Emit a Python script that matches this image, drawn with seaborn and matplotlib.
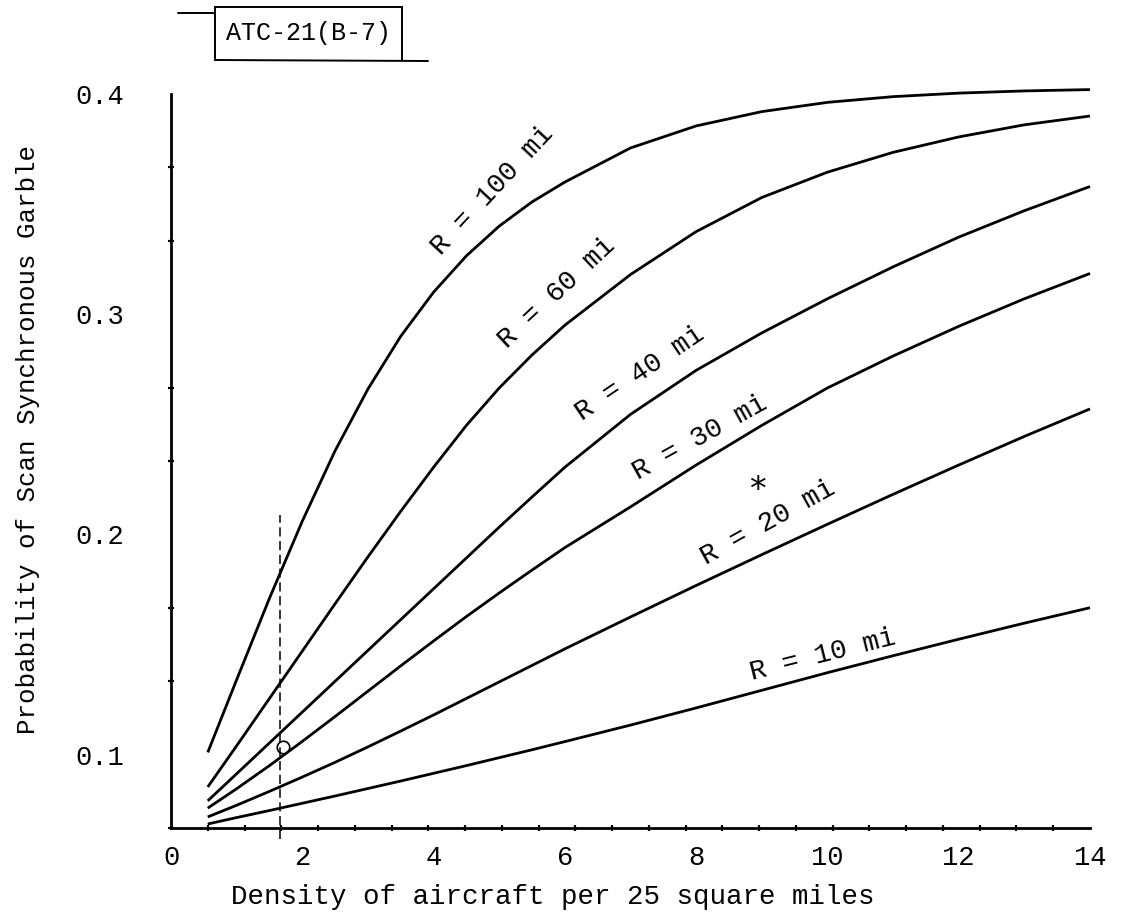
import numpy as np
import pandas as pd
import matplotlib
matplotlib.use("Agg")
import matplotlib.pyplot as plt
from matplotlib.lines import Line2D
import seaborn as sns

# Aircraft density (per 25 square miles) at which each curve is tabulated
density = [0.56, 1.0, 1.5, 2.0, 2.5, 3.0, 3.5, 4.0, 4.5, 5.0, 5.5, 6.0,
           7.0, 8.0, 9.0, 10.0, 11.0, 12.0, 13.0, 14.0]

# Probability of scan-synchronous garble for each interrogator range R
p_r100 = [0.101, 0.134, 0.171, 0.206, 0.238, 0.266, 0.290, 0.310, 0.3265, 0.340,
          0.351, 0.360, 0.3755, 0.3855, 0.392, 0.3962, 0.3988, 0.4004, 0.4014, 0.402]
p_r60 = [0.0853, 0.104, 0.1255, 0.147, 0.1685, 0.1898, 0.2105, 0.2305, 0.2495, 0.2665,
         0.2815, 0.295, 0.318, 0.3375, 0.353, 0.3645, 0.3735, 0.3805, 0.386, 0.390]
p_r40 = [0.079, 0.0913, 0.1053, 0.1193, 0.1333, 0.1473, 0.1613, 0.1753, 0.1893, 0.2033,
         0.217, 0.2305, 0.2545, 0.2745, 0.2915, 0.307, 0.3215, 0.335, 0.347, 0.358]
p_r30 = [0.0757, 0.0845, 0.095, 0.106, 0.1173, 0.1288, 0.1403, 0.1516, 0.1627, 0.1734,
         0.1838, 0.194, 0.2125, 0.2315, 0.2495, 0.2665, 0.281, 0.2945, 0.307, 0.3185]
p_r20 = [0.0717, 0.077, 0.0833, 0.0898, 0.0965, 0.1035, 0.1107, 0.118, 0.1255, 0.133,
         0.1405, 0.148, 0.1625, 0.1768, 0.1908, 0.2046, 0.2182, 0.2315, 0.2445, 0.257]
p_r10 = [0.0685, 0.0714, 0.0746, 0.0779, 0.0812, 0.0846, 0.088, 0.0915, 0.095, 0.0986,
         0.1022, 0.1059, 0.1134, 0.1212, 0.1292, 0.1372, 0.1449, 0.1524, 0.1597, 0.1667]

radius_labels = ["R = 100 mi", "R = 60 mi", "R = 40 mi",
                 "R = 30 mi", "R = 20 mi", "R = 10 mi"]
label_x = [4.905, 5.88, 7.145, 8.06, 9.1, 9.93]
label_y = [0.3564, 0.3096, 0.2733, 0.2438, 0.2052, 0.1452]
label_rot = [47, 43, 34, 29, 29, 14]

x_ticks = [0, 2, 4, 6, 8, 10, 12, 14]
y_ticks = [0.1, 0.2, 0.3, 0.4]
y_tick_labels = ["0.1", "0.2", "0.3", "0.4"]

# reference density line and the annotation marks
ref_density = 1.66
ref_top = 0.209
circle_pt = (1.70, 0.1035)
star_pt = (8.94, 0.220)

title_text = "ATC-21(B-7)"
x_title = "Density of aircraft per 25 square miles"
y_title = "Probability of Scan Synchronous Garble"

sns.set_theme(style="ticks")
plt.rcParams["font.family"] = ["Liberation Mono", "DejaVu Sans Mono"]

series = [p_r100, p_r60, p_r40, p_r30, p_r20, p_r10]
frames = []
for name, vals in zip(radius_labels, series):
    frames.append(pd.DataFrame({"density": density, "prob": vals, "radius": name}))
df = pd.concat(frames, ignore_index=True)

W, H = 1127, 922
fig = plt.figure(figsize=(W / 100, H / 100), dpi=100)
ax = fig.add_axes([171 / W, 94 / H, 919 / W, 734 / H])

sns.lineplot(data=df, x="density", y="prob", hue="radius",
             palette=["black"] * len(radius_labels), legend=False,
             linewidth=2.0, sort=False, estimator=None, ax=ax)
for ln in ax.lines:
    ln.set_clip_on(False)
    ln.set_solid_capstyle("butt")
    ln.set_solid_joinstyle("round")

ymin = 0.4 - 734 / 2202
ax.set_xlim(0, 14)
ax.set_ylim(ymin, 0.4)

# dashed reference line at the chosen density
ax.plot([ref_density, ref_density], [ymin - 0.005, ref_top], color="black",
        lw=1.1, ls=(0, (6, 3)), clip_on=False)
ax.plot(*circle_pt, marker="o", ms=9, mfc="none", mec="black", mew=1.2,
        clip_on=False)
ax.text(*star_pt, "*", fontsize=24, ha="center", va="center", color="black",
        family="DejaVu Sans")

for txt, lx, ly, rot in zip(radius_labels, label_x, label_y, label_rot):
    ax.text(lx, ly, txt, rotation=rot, rotation_mode="anchor",
            ha="center", va="center", fontsize=20, color="black")

for side in ["top", "right"]:
    ax.spines[side].set_visible(False)
for side in ["left", "bottom"]:
    ax.spines[side].set_linewidth(2.0)
    ax.spines[side].set_color("black")

ax.set_xticks(x_ticks)
ax.set_xticklabels([str(v) for v in x_ticks])
ax.set_yticks(y_ticks)
ax.set_yticklabels(y_tick_labels)
ax.set_xticks(np.linspace(0, 14, 26), minor=True)
ax.set_yticks(np.linspace(ymin, 0.4, 11), minor=True)
ax.tick_params(axis="both", which="major", length=0, labelsize=19.5,
               labelcolor="black")
ax.tick_params(axis="x", which="major", pad=12)
ax.tick_params(axis="y", which="major", pad=34)
ax.tick_params(axis="both", which="minor", direction="inout", length=5,
               width=1.6, color="black")
ax.set_xlabel("")
ax.set_ylabel("")
ax.set_facecolor("white")
fig.patch.set_facecolor("white")

fig.text(553 / W, 1 - 897 / H, x_title, ha="center", va="center",
         fontsize=19.8, color="black")
fig.text(28 / W, 1 - 440 / H, y_title, rotation=90, ha="center", va="center",
         fontsize=18.6, color="black")

# boxed document tag above the plot
fig.text(308 / W, 1 - 33 / H, title_text, ha="center", va="center",
         fontsize=18, color="black")


def fig_line(xs, ys, lw=1.4):
    fig.add_artist(Line2D([x / W for x in xs], [1 - y / H for y in ys],
                          color="black", lw=lw, transform=fig.transFigure))


fig_line([178, 215], [13, 13])
fig_line([215, 402], [7, 7])
fig_line([215, 215], [7, 60])
fig_line([402, 402], [7, 60])
fig_line([215, 428], [60, 61])

fig.savefig("out.png", dpi=100, facecolor="white")
